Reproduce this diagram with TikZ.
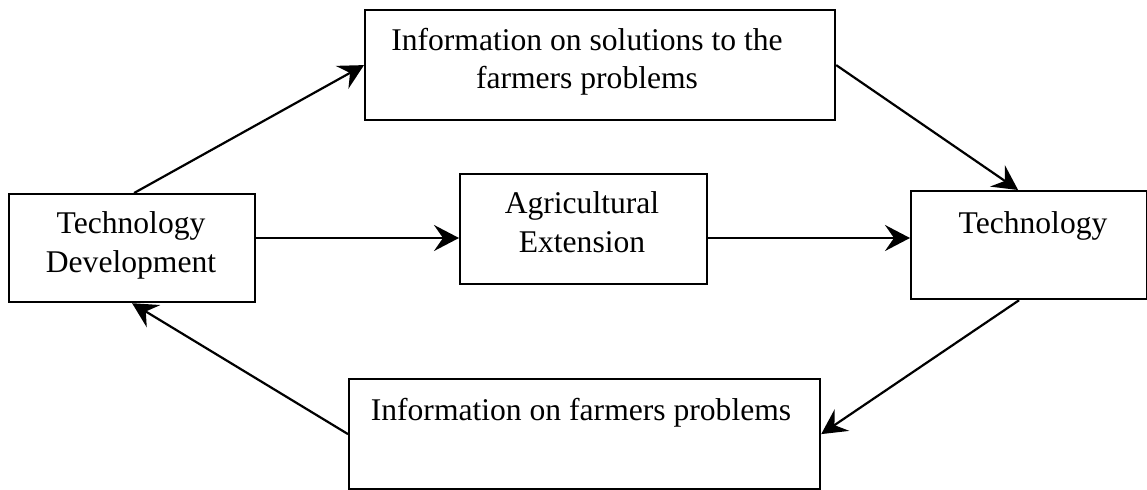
\documentclass[tikz,border=0pt]{standalone}
\usepackage{fontspec}
\setmainfont{Liberation Serif}
\usetikzlibrary{arrows.meta,calc}

\tikzset{
  box/.style={draw, line width=1.1pt, rectangle, anchor=north west, inner sep=0pt},
  txt/.style={font=\fontsize{15.8}{19.2}\selectfont, align=center, inner sep=0pt, anchor=north},
  flow/.style={line width=1.1pt, -{Stealth[length=12.5pt,width=13pt,inset=4.5pt]}}
}

\begin{document}
\begin{tikzpicture}[x=0.5pt,y=-0.5pt]
  \useasboundingbox (0,0) rectangle (1147,489);

  % boxes (corners in pixel units, y downwards)
  \node[box, minimum width=235pt, minimum height=55pt] (T) at (364,9) {};
  \node[box, minimum width=123pt, minimum height=54pt] (L) at (8,193) {};
  \node[box, minimum width=123.5pt, minimum height=55pt] (M) at (459,173) {};
  \node[box, minimum width=118pt, minimum height=54pt] (R) at (910,190) {};
  \node[box, minimum width=235.5pt, minimum height=55pt] (B) at (348,378) {};

  % box texts, set near the top of each box
  \node[txt] (Tt) at (587,27.5) {Information on solutions to the\\farmers problems};
  \node[txt] (Lt) at (131,211.5) {Technology\\Development};
  \node[txt] (Mt) at (582,191.5) {Agricultural\\Extension};
  \node[txt] (Rt) at (1033,211.5) {Technology};
  \node[txt] (Bt) at (581,397.5) {Information on farmers problems};

  % level of the straight connectors through the middle
  \coordinate (mid) at (0,238);

  % connectors
  \draw[flow] ([xshift=1pt]L.north) -- (T.west);
  \draw[flow] (T.east) -- ([xshift=-5.5pt]R.north);
  \draw[flow] (L.east |- mid) -- (M.west |- mid);
  \draw[flow] (M.east |- mid) -- (R.west |- mid);
  \draw[flow] ([xshift=-5pt]R.south) -- (B.east);
  \draw[flow] (B.west) -- (L.south);
\end{tikzpicture}
\end{document}
